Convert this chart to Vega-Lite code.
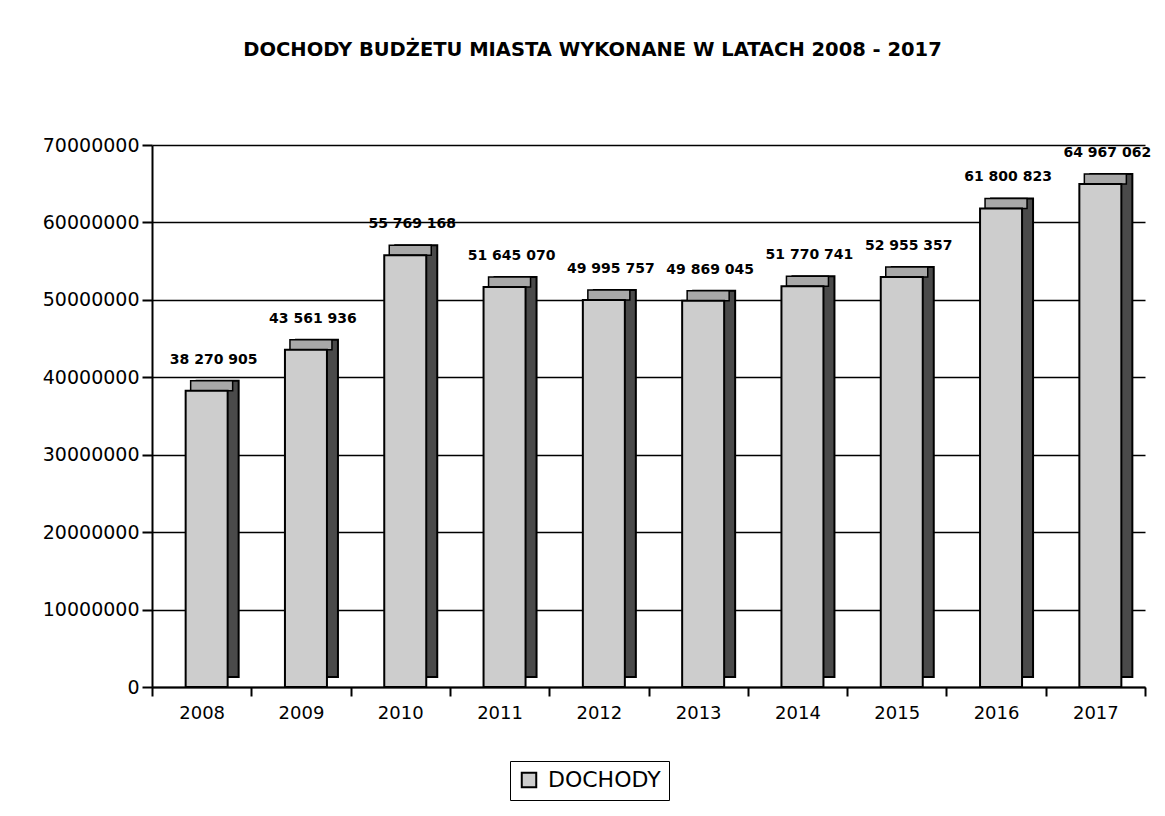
{
  "$schema": "https://vega.github.io/schema/vega-lite/v6.json",
  "autosize": {"type": "none"},
  "width": 993,
  "height": 542,
  "padding": {"left": 152, "top": 145, "right": 20, "bottom": 129},
  "background": "white",
  "config": {
    "font": "DejaVu Sans",
    "view": {"stroke": null},
    "locale": {"number": {"decimal": ",", "thousands": " ", "grouping": [3], "currency": ["", " zł"]}}
  },
  "title": {
    "text": "DOCHODY BUDŻETU MIASTA WYKONANE W LATACH 2008 - 2017",
    "font": "DejaVu Sans",
    "fontSize": 19.5,
    "fontWeight": "bold",
    "color": "black",
    "anchor": "middle",
    "offset": 76,
    "dx": -56
  },
  "data": {
    "values": [
      {"rok": "2008", "dochody": 38270905, "seria": "DOCHODY"},
      {"rok": "2009", "dochody": 43561936, "seria": "DOCHODY"},
      {"rok": "2010", "dochody": 55769168, "seria": "DOCHODY"},
      {"rok": "2011", "dochody": 51645070, "seria": "DOCHODY"},
      {"rok": "2012", "dochody": 49995757, "seria": "DOCHODY"},
      {"rok": "2013", "dochody": 49869045, "seria": "DOCHODY"},
      {"rok": "2014", "dochody": 51770741, "seria": "DOCHODY"},
      {"rok": "2015", "dochody": 52955357, "seria": "DOCHODY"},
      {"rok": "2016", "dochody": 61800823, "seria": "DOCHODY"},
      {"rok": "2017", "dochody": 64967062, "seria": "DOCHODY"}
    ]
  },
  "encoding": {
    "x": {
      "field": "rok",
      "type": "nominal",
      "scale": {"paddingInner": 0, "paddingOuter": 0},
      "axis": {
        "title": null,
        "labelAngle": 0,
        "labelFont": "DejaVu Sans",
        "labelFontSize": 18,
        "labelColor": "black",
        "labelPadding": 8,
        "domainColor": "black",
        "domainWidth": 2,
        "tickColor": "black",
        "tickWidth": 2,
        "tickSize": 9,
        "tickBand": "extent"
      }
    },
    "y": {
      "field": "dochody",
      "type": "quantitative",
      "scale": {"domain": [0, 70000000]},
      "axis": {
        "title": null,
        "values": [0, 10000000, 20000000, 30000000, 40000000, 50000000, 60000000, 70000000],
        "format": "d",
        "labelFont": "DejaVu Sans",
        "labelFontSize": 19,
        "labelColor": "black",
        "labelPadding": 3,
        "domainColor": "black",
        "domainWidth": 2,
        "tickColor": "black",
        "tickWidth": 2,
        "tickSize": 10,
        "grid": true,
        "gridColor": "black",
        "gridWidth": 1.5
      }
    }
  },
  "layer": [
    {
      "mark": {"type": "bar", "width": 42, "xOffset": 16, "yOffset": -10, "y2Offset": -10, "color": "#4a4a4a", "stroke": "black", "strokeWidth": 2}
    },
    {
      "mark": {"type": "bar", "width": 42, "xOffset": 10, "yOffset": -10, "y2Offset": 0, "color": "#a8a8a8", "stroke": "black", "strokeWidth": 1.5},
      "encoding": {
        "y2": {"field": "dochody"}
      }
    },
    {
      "mark": {"type": "bar", "width": 42, "xOffset": 5, "stroke": "black", "strokeWidth": 2},
      "encoding": {
        "color": {
          "field": "seria",
          "type": "nominal",
          "scale": {"range": ["#cdcdcd"]},
          "legend": {
            "title": null,
            "orient": "none",
            "legendX": 358,
            "legendY": 616,
            "symbolType": "square",
            "symbolSize": 210,
            "symbolStrokeColor": "black",
            "symbolStrokeWidth": 2,
            "labelFont": "DejaVu Sans",
            "labelFontSize": 22,
            "labelColor": "black",
            "labelOffset": 8,
            "padding": 8,
            "strokeColor": "black",
            "fillColor": "white"
          }
        }
      }
    },
    {
      "mark": {"type": "text", "font": "DejaVu Sans", "fontSize": 14, "fontWeight": "bold", "color": "black", "baseline": "middle", "dy": -31, "xOffset": 12},
      "encoding": {
        "text": {"field": "dochody", "type": "quantitative", "format": ",d"}
      }
    }
  ]
}
